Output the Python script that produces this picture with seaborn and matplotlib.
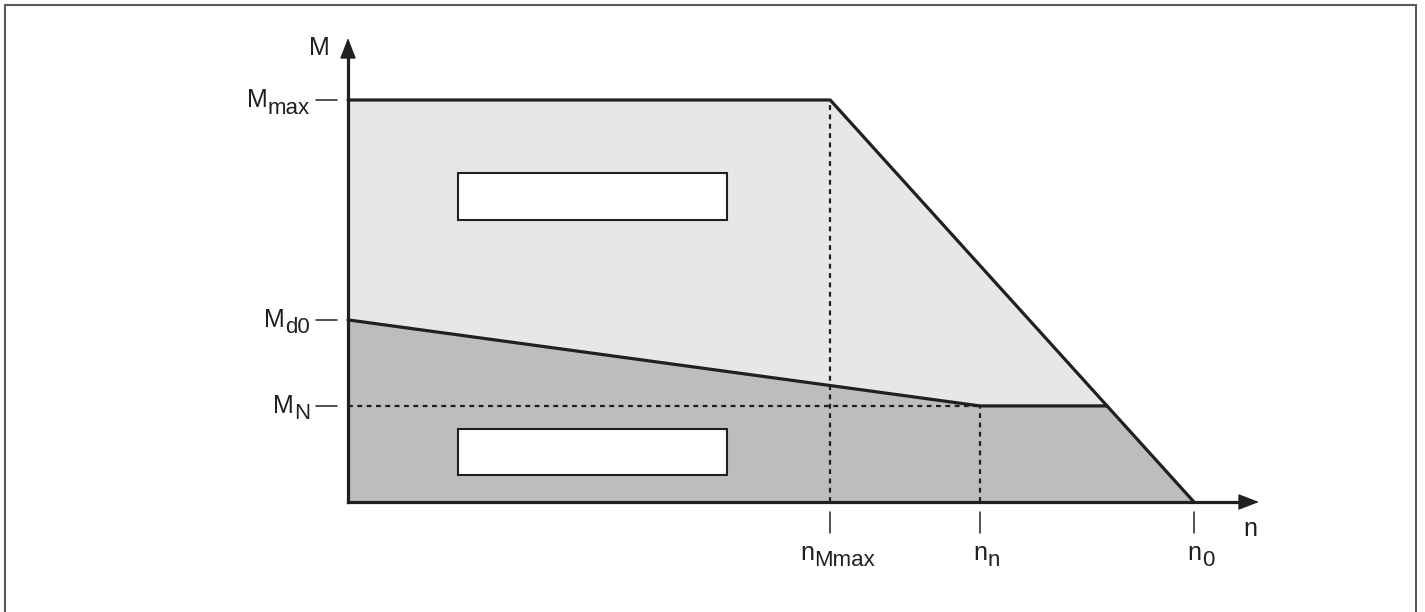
import matplotlib
matplotlib.use("Agg")
import matplotlib.pyplot as plt
import numpy as np
import pandas as pd
import seaborn as sns

# characteristic curve values (relative units: n0 = 1, Mmax = 1)
n_Mmax = 0.570
n_n = 0.747
n_0 = 1.0
M_max = 1.0
M_d0 = 0.453
M_N = 0.239

y_tick_values = [M_max, M_d0, M_N]
y_tick_labels = [("M", "max"), ("M", "d0"), ("M", "N")]
x_tick_values = [n_Mmax, n_n, n_0]
x_tick_labels = [("n", "Mmax"), ("n", "n"), ("n", "0")]

# blank placeholder boxes (n_start, n_end, M_low, M_high)
boxes = [(0.130, 0.448, 0.702, 0.818), (0.130, 0.448, 0.067, 0.182)]

# where the rated torque plateau meets the falling limit
n_p = n_Mmax + (n_0 - n_Mmax) * (M_max - M_N) / M_max

sns.set_style("white")
plt.rcParams["font.family"] = ["Liberation Sans", "DejaVu Sans"]

W, H = 1425, 612
PX, PY = 846, 402          # pixels per unit
X0, Y0 = 348, 502          # origin in pixels
ink = "#231f20"
FS, FS_SUB = 18, 16
PT = 0.72                  # points per pixel at dpi 100

fig = plt.figure(figsize=(W / 100, H / 100), dpi=100)
ax = fig.add_axes([0, 0, 1, 1])
ax.set_xlim(-X0 / PX, (W - X0) / PX)
ax.set_ylim(-(H - Y0) / PY, Y0 / PY)
ax.axis("off")

# outer frame
frame_kw = dict(color="#5a5a5a", lw=1.5, transform=ax.transAxes, clip_on=False)
l, r, t = 4.5 / W, 1416 / W, 1 - 4.5 / H
ax.plot([l, l], [0, t], **frame_kw)
ax.plot([l, r], [t, t], **frame_kw)
ax.plot([r, r], [0, t], **frame_kw)

# filled regions
light = pd.DataFrame({"n": [0, 0, n_Mmax, n_0], "M": [0, M_max, M_max, 0]})
dark = pd.DataFrame({"n": [0, 0, n_n, n_p, n_0], "M": [0, M_d0, M_N, M_N, 0]})
ax.fill(light["n"], light["M"], color="#e6e7e8", lw=0, zorder=1)
ax.fill(dark["n"], dark["M"], color="#bcbdbf", lw=0, zorder=2)

# dashed guides
dash = dict(color=ink, lw=1.6, ls=(0, (2.2, 2.0)), zorder=3)
ax.plot([0, n_n], [M_N, M_N], **dash)
ax.plot([n_Mmax, n_Mmax], [0, M_max], **dash)
ax.plot([n_n, n_n], [0, M_N], **dash)

# outlines
upper = pd.DataFrame({"n": [0, n_Mmax, n_0], "M": [M_max, M_max, 0]})
lower = pd.DataFrame({"n": [0, n_n, n_p], "M": [M_d0, M_N, M_N]})
for df in (upper, lower):
    sns.lineplot(data=df, x="n", y="M", sort=False, ax=ax, color=ink, lw=2.3,
                 zorder=4, legend=False)

# boxes
for n1, n2, m1, m2 in boxes:
    ax.add_patch(plt.Rectangle((n1, m1), n2 - n1, m2 - m1, facecolor="white",
                               edgecolor=ink, lw=1.5, zorder=5))

# axes with arrows
y_tip = (Y0 - 38) / PY
x_tip = (1259 - X0) / PX
ax.plot([0, 0], [0, y_tip - 10 / PY], color=ink, lw=2.3, solid_capstyle="projecting", zorder=6)
ax.plot([0, x_tip - 10 / PX], [0, 0], color=ink, lw=2.3, solid_capstyle="projecting", zorder=6)
arrow = dict(arrowstyle="-|>,head_length=0.65,head_width=0.25", color=ink, lw=1.0,
             shrinkA=0, shrinkB=0, mutation_scale=20)
ax.annotate("", xy=(0, y_tip), xytext=(0, y_tip - 20 / PY), arrowprops=arrow, zorder=6)
ax.annotate("", xy=(x_tip, 0), xytext=(x_tip - 20 / PX, 0), arrowprops=arrow, zorder=6)

ax.annotate("M", xy=(0, y_tip), xytext=(-18 * PT, -17 * PT), textcoords="offset points",
            ha="right", va="baseline", fontsize=FS, color=ink)
ax.annotate("n", xy=(x_tip, 0), xytext=(-9 * PT, -34 * PT), textcoords="offset points",
            ha="center", va="baseline", fontsize=FS, color=ink)

# labels with large lowered subscripts
pending = []


def sub_label(xy, main, sub, dx, dy, align):
    kw = dict(xy=xy, textcoords="offset points", ha="left", va="baseline", color=ink)
    t1 = ax.annotate(main, xytext=(0, 0), fontsize=FS, **kw)
    t2 = ax.annotate(sub, xytext=(0, 0), fontsize=FS_SUB, **kw)
    pending.append((t1, t2, dx, dy, align))


# y ticks
for v, (m, s) in zip(y_tick_values, y_tick_labels):
    ax.plot([-32 / PX, -11 / PX], [v, v], color=ink, lw=1.1)
    sub_label((0, v), m, s, -38, -7, "right")

# x ticks
for v, (m, s) in zip(x_tick_values, x_tick_labels):
    ax.plot([v, v], [-10 / PY, -31 / PY], color=ink, lw=1.1)
    sub_label((v, 0), m, s, 7, -58, "center")

fig.canvas.draw()
renderer = fig.canvas.get_renderer()
for t1, t2, dx, dy, align in pending:
    w1 = t1.get_window_extent(renderer).width
    w2 = t2.get_window_extent(renderer).width
    left = dx - (w1 + w2) if align == "right" else dx - (w1 + w2) / 2
    t1.xyann = (left * PT, dy * PT)
    t2.xyann = ((left + w1) * PT, (dy - 6.5) * PT)

fig.savefig("out.png", dpi=100)
